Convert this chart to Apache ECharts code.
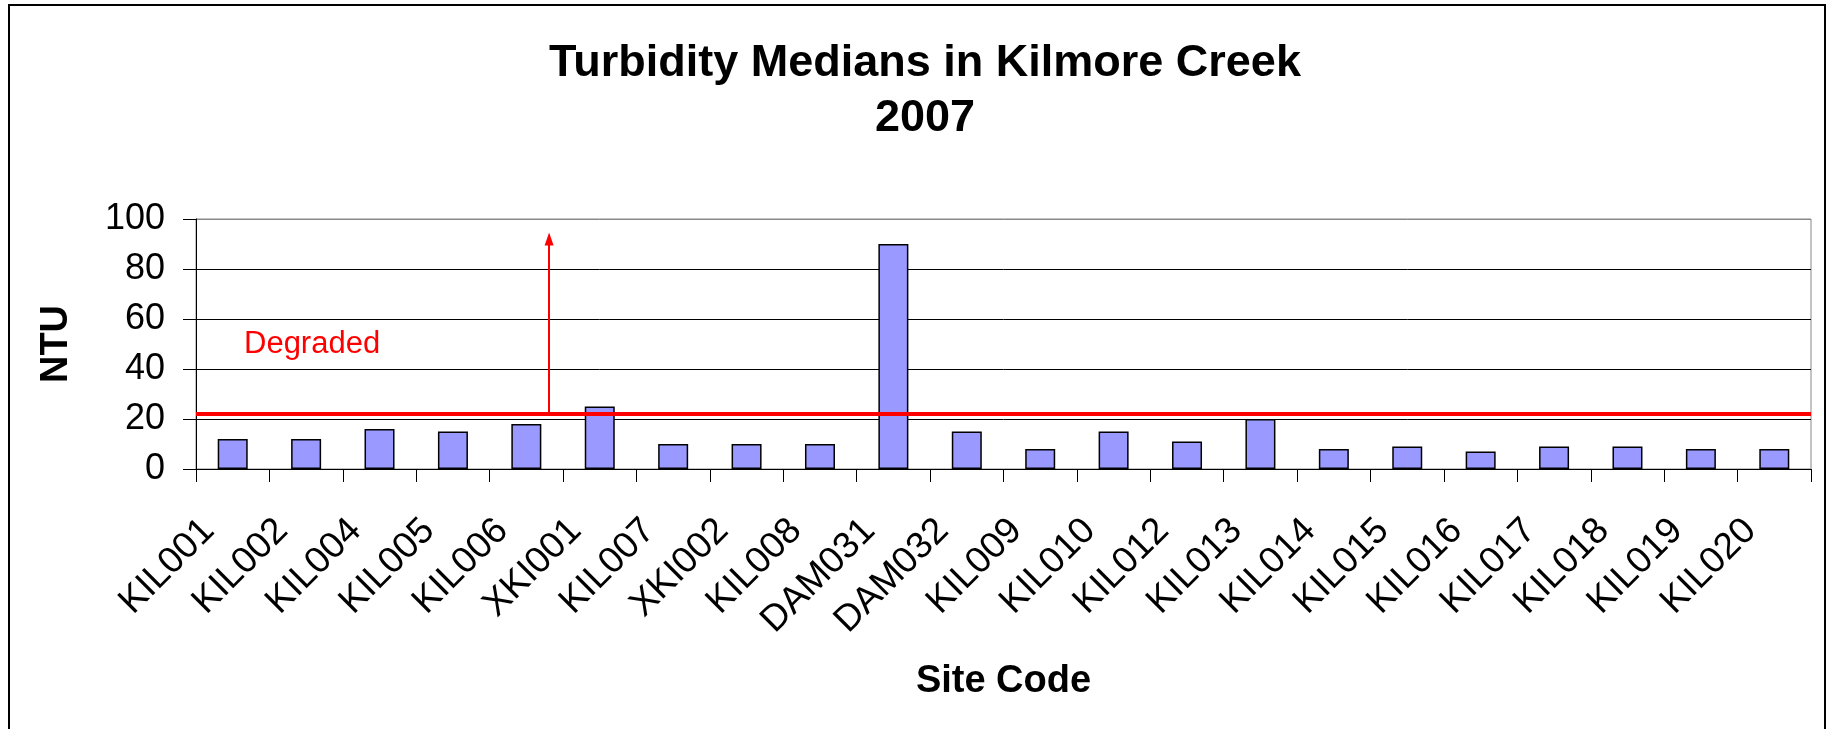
<!DOCTYPE html>
<html>
<head>
<meta charset="utf-8">
<title>Turbidity Medians in Kilmore Creek 2007</title>
<script src="https://cdn.jsdelivr.net/npm/echarts@6/dist/echarts.min.js"></script>
<style>
  html, body { margin: 0; padding: 0; background: #fff; }
  #chart { width: 1828px; height: 729px; }
</style>
</head>
<body>
<div id="chart"></div>
<script>
// site codes along the x axis
const sites = ['KIL001', 'KIL002', 'KIL004', 'KIL005', 'KIL006', 'XKI001', 'KIL007', 'XKI002',
  'KIL008', 'DAM031', 'DAM032', 'KIL009', 'KIL010', 'KIL012', 'KIL013', 'KIL014', 'KIL015',
  'KIL016', 'KIL017', 'KIL018', 'KIL019', 'KIL020'];
// median turbidity (NTU)
const medians = [12, 12, 16, 15, 18, 25, 10, 10, 10, 90, 15, 8, 15, 11, 20, 8, 9, 7, 9, 9, 8, 8];
const yTicks = [0, 20, 40, 60, 80, 100];
// degraded threshold and the arrow pointing up from it
const threshold = 22;
const arrowX = [4.81, 4.81];   // in category units (0 .. sites.length)
const arrowY = [22, 92];

const FONT = 'Liberation Sans, Arial, sans-serif';

const chart = echarts.init(document.getElementById('chart'));

const option = {
  backgroundColor: '#fff',
  animation: false,
  title: {
    text: 'Turbidity Medians in Kilmore Creek\n2007',
    left: 920,
    textAlign: 'center',
    top: 31,
    textStyle: { fontFamily: FONT, fontSize: 45, fontWeight: 'bold', color: '#000', lineHeight: 55 }
  },
  grid: {
    left: 196, right: 17, top: 219, bottom: 260,
    show: true, borderColor: '#888', borderWidth: 1, backgroundColor: 'transparent'
  },
  xAxis: [{
    type: 'category',
    data: sites,
    name: 'Site Code',
    nameLocation: 'middle',
    nameGap: 194,
    nameTextStyle: { fontFamily: FONT, fontSize: 38, fontWeight: 'bold', color: '#000' },
    axisLine: { lineStyle: { color: '#000', width: 1 } },
    axisTick: { show: true, length: 13, lineStyle: { color: '#000' } },
    axisLabel: {
      interval: 0, rotate: 45, margin: 32, padding: [0, 34, 0, 0],
      fontFamily: FONT, fontSize: 37, color: '#000'
    }
  }, {
    // hidden value axis for placing the annotation arrow between categories
    type: 'value', min: 0, max: sites.length, show: false, position: 'bottom'
  }],
  yAxis: {
    type: 'value',
    min: yTicks[0], max: yTicks[yTicks.length - 1], interval: 20,
    name: 'NTU',
    nameLocation: 'middle',
    nameRotate: 90,
    nameGap: 120,
    nameTextStyle: { fontFamily: FONT, fontSize: 38, fontWeight: 'bold', color: '#000' },
    axisLine: { show: true, lineStyle: { color: '#000', width: 1 } },
    axisTick: { show: true, length: 13, lineStyle: { color: '#000' } },
    axisLabel: { margin: 31, fontFamily: FONT, fontSize: 36, color: '#000' },
    splitLine: { show: true, lineStyle: { color: ['#000', '#000', '#000', '#000', '#000', '#888'], width: 1 } }
  },
  series: [{
    type: 'bar',
    data: medians,
    barWidth: 30,
    itemStyle: { color: '#9999ff', borderColor: '#000', borderWidth: 1.5 },
    markLine: {
      silent: true,
      symbol: 'none',
      label: { show: false },
      lineStyle: { color: '#ff0000', width: 4, type: 'solid' },
      data: [{ yAxis: threshold }]
    },
    z: 2
  }, {
    type: 'scatter',
    xAxisIndex: 1,
    data: [],
    markLine: {
      silent: true,
      symbol: ['none', 'triangle'],
      symbolSize: [9, 13],
      label: { show: false },
      lineStyle: { color: '#ff0000', width: 2, type: 'solid' },
      data: [[{ coord: [arrowX[0], arrowY[0]] }, { coord: [arrowX[1], arrowY[1]] }]]
    },
    z: 3
  }],
  graphic: [{
    type: 'rect',
    shape: { x: 9, y: 5, width: 1816, height: 800 },
    style: { fill: 'none', stroke: '#000', lineWidth: 2 },
    silent: true
  }, {
    type: 'text',
    left: 244,
    top: 329,
    style: { text: 'Degraded', fill: '#ff0000', fontFamily: FONT, fontSize: 31 },
    silent: true
  }]
};

chart.setOption(option);
</script>
</body>
</html>
